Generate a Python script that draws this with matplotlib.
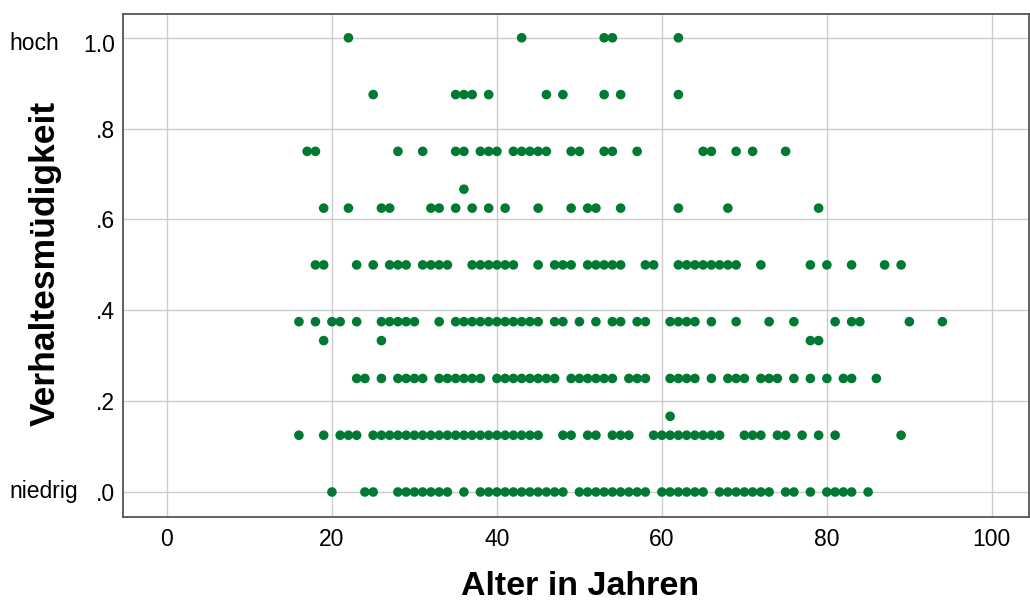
import matplotlib
matplotlib.use('Agg')
import matplotlib.pyplot as plt
import matplotlib.transforms as mtransforms
import numpy as np

# ages per level of "Verhaltesmüdigkeit"
age_100 = [22, 43, 53, 54, 62]
age_0875 = [25, 35, 36, 37, 39, 46, 48, 53, 55, 62]
age_075 = [17, 18, 28, 31, 35, 36, 38, 39, 40, 42, 43, 44, 45, 46, 49, 50,
           53, 54, 57, 65, 66, 69, 71, 75]
age_0667 = [36]
age_0625 = [19, 22, 26, 27, 32, 33, 35, 37, 39, 41, 45, 49, 51, 52, 55, 62, 68, 79]
age_050 = [18, 19, 23, 25, 27, 28, 29, 31, 32, 33, 34, 37, 38, 39, 40, 41, 42,
           45, 47, 48, 49, 51, 52, 53, 54, 55, 58, 59, 62, 63, 64, 65, 66, 67,
           68, 69, 72, 78, 80, 83, 87, 89]
age_0375 = [16, 18, 20, 21, 23, 26, 27, 28, 29, 30, 33, 35, 36, 37, 38, 39, 40,
            41, 42, 43, 44, 45, 47, 48, 50, 52, 54, 55, 57, 58, 61, 62, 63, 64,
            66, 69, 73, 76, 81, 83, 84, 90, 94]
age_0333 = [19, 26, 78, 79]
age_025 = [23, 24, 26, 28, 29, 30, 31, 33, 34, 35, 36, 37, 38, 40, 41, 42, 43,
           44, 45, 46, 47, 49, 50, 51, 52, 53, 54, 56, 57, 58, 61, 62, 63, 64,
           66, 68, 69, 70, 72, 73, 74, 76, 78, 80, 82, 83, 86]
age_0167 = [61]
age_0125 = [16, 19, 21, 22, 23, 25, 26, 27, 28, 29, 30, 31, 32, 33, 34, 35, 36,
            37, 38, 39, 40, 41, 42, 43, 44, 45, 48, 49, 51, 52, 54, 55, 56, 59,
            60, 61, 62, 63, 64, 65, 66, 67, 70, 71, 72, 74, 75, 77, 79, 81, 89]
age_000 = [20, 24, 25, 28, 29, 30, 31, 32, 33, 34, 36, 38, 39, 40, 41, 42, 43,
           44, 45, 46, 47, 48, 50, 51, 52, 53, 54, 55, 56, 57, 58, 60, 61, 62,
           63, 64, 65, 67, 68, 69, 70, 71, 72, 73, 75, 76, 78, 80, 81, 82, 83, 85]

levels = [1.0, 0.875, 0.75, 2/3, 0.625, 0.5, 0.375, 1/3, 0.25, 1/6, 0.125, 0.0]
groups = [age_100, age_0875, age_075, age_0667, age_0625, age_050, age_0375,
          age_0333, age_025, age_0167, age_0125, age_000]

x_ticks = [0, 20, 40, 60, 80, 100]
y_ticks = [0.0, 0.2, 0.4, 0.6, 0.8, 1.0]
y_ticklabels = ['.0', '.2', '.4', '.6', '.8', '1.0']

ages = np.concatenate([np.array(g, dtype=float) for g in groups])
vals = np.concatenate([np.full(len(g), lv) for g, lv in zip(groups, levels)])

plt.rcParams['font.family'] = ['Liberation Sans', 'DejaVu Sans']

fig = plt.figure(figsize=(10.30, 6.01), dpi=100)
ax = fig.add_axes([0.1194, 0.1398, 0.8796, 0.8369])

ax.scatter(ages, vals, s=48, color='#007a33', edgecolors='none', zorder=3)

ax.set_xlim(-5.33, 104.5)
ax.set_ylim(-0.055, 1.0524)
ax.set_xticks(x_ticks)
ax.set_xticklabels([str(t) for t in x_ticks], fontsize=16.5)
ax.set_yticks(y_ticks)
ax.set_yticklabels(y_ticklabels, fontsize=16.5)
ax.tick_params(axis='x', length=0, pad=8)
ax.tick_params(axis='y', length=0, pad=6)
ax.grid(True, color='#cccccc', linewidth=1, zorder=0)
ax.set_axisbelow(True)
for sp in ax.spines.values():
    sp.set_color('#555555')
    sp.set_linewidth(1.3)

# the top label sits a little below its grid line, as in the original
shift = mtransforms.ScaledTranslation(0, -4 / 72, fig.dpi_scale_trans)
top_lab = ax.get_yticklabels()[-1]
top_lab.set_transform(top_lab.get_transform() + shift)

ax.set_xlabel('Alter in Jahren', fontsize=24.5, fontweight='bold')
ax.xaxis.set_label_coords(0.505, -0.108)
ax.set_ylabel('Verhaltesmüdigkeit', fontsize=25.5, fontweight='bold')
ax.yaxis.set_label_coords(-0.068, 0.505)

# end labels of the scale
tr = mtransforms.blended_transform_factory(fig.transFigure, ax.transData)
ax.text(9 / 1030, 1.0, 'hoch', transform=tr + shift, ha='left',
        va='center', fontsize=16.5)
ax.text(9 / 1030, 0.0, 'niedrig', transform=tr, ha='left',
        va='center', fontsize=16.5)

fig.savefig('out.png', dpi=100)
